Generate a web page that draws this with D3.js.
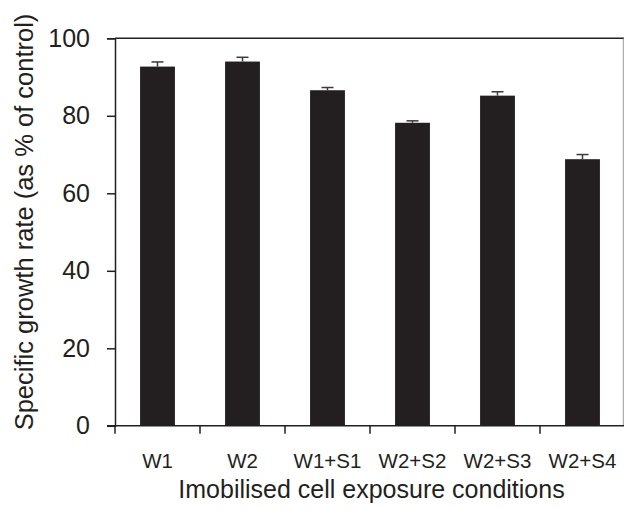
<!DOCTYPE html>
<html>
<head>
<meta charset="utf-8">
<script src="https://cdn.jsdelivr.net/npm/d3@7"></script>
<style>
  html, body { margin: 0; padding: 0; background: #fff; }
  svg { display: block; font-family: "Liberation Sans", Arial, Helvetica, sans-serif; }
</style>
</head>
<body>
<svg id="chart" width="624" height="509"></svg>
<script>
const categories = ['W1', 'W2', 'W1+S1', 'W2+S2', 'W2+S3', 'W2+S4'];
const growthRate = [92.7, 94.0, 86.6, 78.2, 85.2, 68.8];
const growthError = [1.2, 1.1, 0.7, 0.5, 1.0, 1.2];
const yTicks = [0, 20, 40, 60, 80, 100];

const ink = '#231f20';
const width = 624;
const height = 509;
const margin = { top: 38.3, right: -1, bottom: 83.2, left: 115 };

const svg = d3.select('#chart');

const x = d3
  .scaleBand()
  .domain(categories)
  .range([margin.left, width - margin.right])
  .paddingInner(0.59)
  .paddingOuter(0.295);

const y = d3
  .scaleLinear()
  .domain([0, 100])
  .range([height - margin.bottom, margin.top]);

const rows = categories.map((c, i) => ({ cat: c, value: growthRate[i], err: growthError[i] }));

// bars
svg
  .append('g')
  .selectAll('rect')
  .data(rows)
  .join('rect')
  .attr('x', (d) => x(d.cat))
  .attr('y', (d) => y(d.value))
  .attr('width', x.bandwidth())
  .attr('height', (d) => y(0) - y(d.value))
  .attr('fill', ink);

// error bars (upper half only)
const errG = svg.append('g').attr('stroke', '#3a3a3a').attr('stroke-width', 1.5);
errG
  .selectAll('line.stem')
  .data(rows)
  .join('line')
  .attr('class', 'stem')
  .attr('x1', (d) => x(d.cat) + x.bandwidth() / 2)
  .attr('x2', (d) => x(d.cat) + x.bandwidth() / 2)
  .attr('y1', (d) => y(d.value))
  .attr('y2', (d) => y(d.value + d.err));
errG
  .selectAll('line.cap')
  .data(rows)
  .join('line')
  .attr('class', 'cap')
  .attr('x1', (d) => x(d.cat) + x.bandwidth() / 2 - 6)
  .attr('x2', (d) => x(d.cat) + x.bandwidth() / 2 + 6)
  .attr('y1', (d) => y(d.value + d.err))
  .attr('y2', (d) => y(d.value + d.err));

// frame: top and right
svg
  .append('line')
  .attr('x1', margin.left)
  .attr('x2', width)
  .attr('y1', y(100))
  .attr('y2', y(100))
  .attr('stroke', ink)
  .attr('stroke-width', 1.5);
svg
  .append('line')
  .attr('x1', 623.3)
  .attr('x2', 623.3)
  .attr('y1', y(100))
  .attr('y2', y(0))
  .attr('stroke', '#9a9a9a')
  .attr('stroke-width', 1);

// y axis
const yAxis = svg
  .append('g')
  .attr('transform', `translate(${margin.left},0)`)
  .call(d3.axisLeft(y).tickValues(yTicks).tickSize(8).tickPadding(17));
yAxis.select('.domain').attr('stroke', ink).attr('stroke-width', 1.5);
yAxis.selectAll('.tick line').attr('stroke', ink).attr('stroke-width', 1.5);
yAxis.selectAll('.tick text').attr('fill', ink).attr('font-size', 25).attr('font-family', null);

// x axis: line plus ticks at band boundaries
const bounds = categories.map((c) => x(c) + x.bandwidth() / 2 - x.step() / 2);
bounds.push(bounds[bounds.length - 1] + x.step());
const xAxis = svg.append('g').attr('stroke', ink).attr('stroke-width', 1.5);
xAxis
  .append('line')
  .attr('x1', margin.left - 8)
  .attr('x2', width)
  .attr('y1', y(0))
  .attr('y2', y(0));
xAxis
  .selectAll('line.tick')
  .data(bounds)
  .join('line')
  .attr('class', 'tick')
  .attr('x1', (d) => d)
  .attr('x2', (d) => d)
  .attr('y1', y(0))
  .attr('y2', y(0) + 8);

svg
  .append('g')
  .selectAll('text')
  .data(categories)
  .join('text')
  .attr('x', (d) => x(d) + x.bandwidth() / 2)
  .attr('y', y(0) + 42.5)
  .attr('text-anchor', 'middle')
  .attr('fill', ink)
  .attr('font-size', 20.5)
  .text((d) => d);

// axis titles
svg
  .append('text')
  .attr('x', (margin.left + width) / 2 + 2)
  .attr('y', 498)
  .attr('text-anchor', 'middle')
  .attr('fill', ink)
  .attr('font-size', 25)
  .text('Imobilised cell exposure conditions');

svg
  .append('text')
  .attr('transform', 'translate(33,222) rotate(-90)')
  .attr('text-anchor', 'middle')
  .attr('fill', ink)
  .attr('font-size', 25.5)
  .text('Specific growth rate (as % of control)');
</script>
</body>
</html>
